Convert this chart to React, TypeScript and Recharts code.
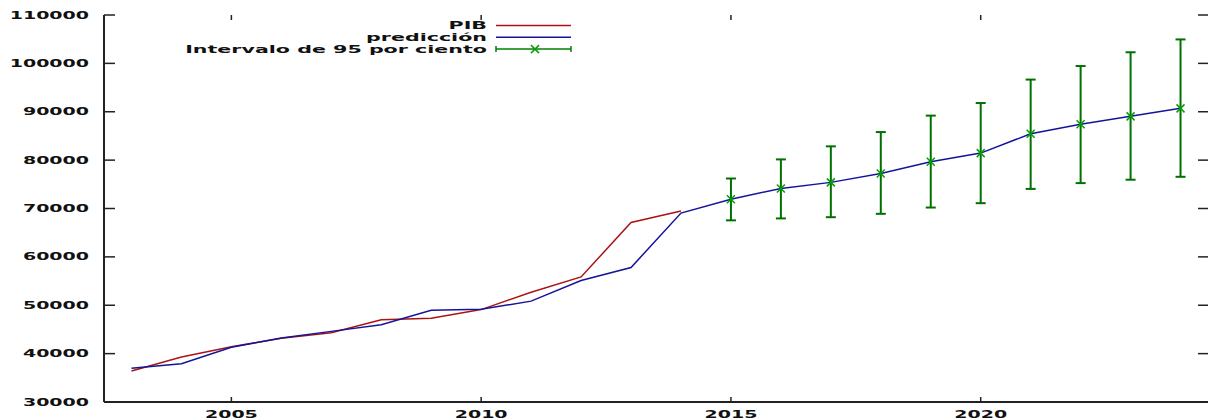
import React from "react";
import {
    ComposedChart,
    Line,
    Scatter,
    ErrorBar,
    XAxis,
    YAxis,
} from "recharts";

const years = [
    2003, 2004, 2005, 2006, 2007, 2008, 2009, 2010, 2011, 2012, 2013, 2014,
    2015, 2016, 2017, 2018, 2019, 2020, 2021, 2022, 2023, 2024,
];
const pib = [
    36400, 39300, 41400, 43200, 44300, 47000, 47300, 49100, 52700, 55850,
    67100, 69500,
];
const prediccion = [
    37000, 37900, 41300, 43250, 44600, 45950, 48950, 49150, 50850, 55100,
    57800, 69050, 71900, 74150, 75400, 77250, 79650, 81450, 85450, 87400,
    89050, 90700,
];
const intervalYears = [2015, 2016, 2017, 2018, 2019, 2020, 2021, 2022, 2023, 2024];
const intervalLow = [67550, 67950, 68200, 68900, 70200, 71100, 74050, 75250, 75950, 76550];
const intervalHigh = [76200, 80150, 82850, 85800, 89200, 91800, 96650, 99450, 102300, 104950];

const xTicks = [2005, 2010, 2015, 2020];
const yTicks = [30000, 40000, 50000, 60000, 70000, 80000, 90000, 100000, 110000];

const legendItems = [
    { name: "PIB", color: "#aa1414", kind: "line" },
    { name: "predicción", color: "#14149a", kind: "line" },
    { name: "Intervalo de 95 por ciento", color: "#008000", kind: "interval" },
];

// table for the lines
const lineData = years.map((year, i) => ({
    year,
    pib: i < pib.length ? pib[i] : null,
    prediccion: prediccion[i],
}));

// table for the interval markers
const intervalData = intervalYears.map((year, i) => {
    const mid = prediccion[years.indexOf(year)];
    return {
        year,
        mid,
        err: [mid - intervalLow[i], intervalHigh[i] - mid],
    };
});

const W = 1210;
const H = 420;
const PLOT_LEFT = 104;
const PLOT_TOP = 15;
const PLOT_RIGHT = 1208;
const PLOT_BOTTOM = 402;
const AXIS = "#222";

const StretchText = ({ x, y, anchor, sx = 1.9, children }: any) => (
    <text
        transform={`translate(${x},${y}) scale(${sx},1)`}
        textAnchor={anchor}
        fontFamily="DejaVu Sans"
        fontWeight="bold"
        fontSize={10}
        fill="#111"
    >
        {children}
    </text>
);

const YTick = (props: any) => {
    const { y, payload } = props;
    return (
        <g>
            <line x1={PLOT_LEFT} x2={PLOT_LEFT + 11} y1={y} y2={y} stroke={AXIS} strokeWidth={1.5} />
            <line x1={PLOT_RIGHT - 10} x2={PLOT_RIGHT} y1={y} y2={y} stroke={AXIS} strokeWidth={1.5} />
            <StretchText x={89} y={y + 3.6} anchor="end">
                {payload.value}
            </StretchText>
        </g>
    );
};

const XTick = (props: any) => {
    const { x, payload } = props;
    return (
        <g>
            <line x1={x} x2={x} y1={PLOT_BOTTOM} y2={PLOT_BOTTOM - 5} stroke={AXIS} strokeWidth={1.5} />
            <line x1={x} x2={x} y1={PLOT_TOP} y2={PLOT_TOP + 5} stroke={AXIS} strokeWidth={1.5} />
            <StretchText x={x} y={418} anchor="middle">
                {payload.value}
            </StretchText>
        </g>
    );
};

const XMark = (props: any) => {
    const { cx, cy } = props;
    const s = 4;
    return (
        <g stroke="#00a000" strokeWidth={1.5}>
            <line x1={cx - s} y1={cy - s} x2={cx + s} y2={cy + s} />
            <line x1={cx - s} y1={cy + s} x2={cx + s} y2={cy - s} />
        </g>
    );
};

const LegendBox = () => (
    <svg
        width={W}
        height={60}
        style={{ position: "absolute", left: 0, top: 0, pointerEvents: "none" }}
    >
        {legendItems.map((item, i) => {
            const y = 25.5 + i * 11.8;
            return (
                <g key={item.name}>
                    <StretchText x={487} y={y + 3.6} anchor="end" sx={2.06}>
                        {item.name}
                    </StretchText>
                    <line x1={496} x2={571} y1={y} y2={y} stroke={item.color} strokeWidth={1.5} />
                    {item.kind === "interval" && (
                        <g stroke={item.color} strokeWidth={1.5}>
                            <line x1={496} x2={496} y1={y - 3} y2={y + 3} />
                            <line x1={571} x2={571} y1={y - 3} y2={y + 3} />
                            <XMark cx={535} cy={y} />
                        </g>
                    )}
                </g>
            );
        })}
    </svg>
);

export default function App() {
    return (
        <div style={{ position: "relative", width: W, height: H }}>
            <style>{`body{margin:0;}`}</style>
            <ComposedChart
                width={W}
                height={H}
                data={lineData}
                margin={{ top: PLOT_TOP, right: W - PLOT_RIGHT, bottom: 0, left: 0 }}
            >
                <XAxis
                    dataKey="year"
                    type="number"
                    domain={[2002.45, 2024.55]}
                    ticks={xTicks}
                    allowDataOverflow
                    height={H - PLOT_BOTTOM}
                    axisLine={{ stroke: AXIS, strokeWidth: 2 }}
                    tickLine={false}
                    tick={<XTick />}
                />
                <XAxis
                    xAxisId="top"
                    orientation="top"
                    type="number"
                    domain={[2002.45, 2024.55]}
                    height={0}
                    axisLine={{ stroke: AXIS, strokeWidth: 2 }}
                    tickLine={false}
                    tick={false}
                />
                <YAxis
                    type="number"
                    domain={[30000, 110000]}
                    ticks={yTicks}
                    width={PLOT_LEFT}
                    axisLine={{ stroke: AXIS, strokeWidth: 2 }}
                    tickLine={false}
                    tick={<YTick />}
                    interval={0}
                />
                <YAxis
                    yAxisId="right"
                    orientation="right"
                    type="number"
                    domain={[30000, 110000]}
                    width={0}
                    axisLine={{ stroke: AXIS, strokeWidth: 2 }}
                    tickLine={false}
                    tick={false}
                />
                <Line
                    dataKey="pib"
                    name="PIB"
                    stroke="#aa1414"
                    strokeWidth={1.5}
                    dot={false}
                    isAnimationActive={false}
                />
                <Line
                    dataKey="prediccion"
                    name="predicción"
                    stroke="#14149a"
                    strokeWidth={1.5}
                    dot={false}
                    isAnimationActive={false}
                />
                <Scatter
                    data={intervalData}
                    dataKey="mid"
                    name="Intervalo de 95 por ciento"
                    shape={<XMark />}
                    isAnimationActive={false}
                >
                    <ErrorBar
                        dataKey="err"
                        direction="y"
                        width={5}
                        stroke="#007000"
                        strokeWidth={2}
                        isAnimationActive={false}
                    />
                </Scatter>
            </ComposedChart>
            <LegendBox />
        </div>
    );
}
